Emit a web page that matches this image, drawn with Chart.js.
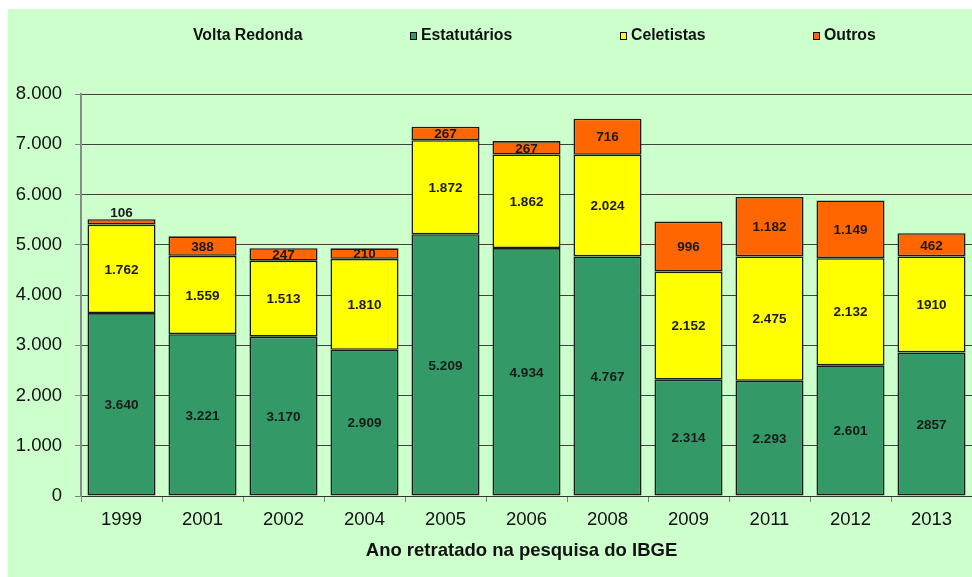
<!DOCTYPE html>
<html>
<head>
<meta charset="utf-8">
<script src="https://cdn.jsdelivr.net/npm/chart.js@4.4.1/dist/chart.umd.min.js"></script>
<style>
  html, body { margin: 0; padding: 0; background: #ffffff; }
  #wrap { width: 972px; height: 577px; position: relative; }
</style>
</head>
<body>
<div id="wrap"><canvas id="c" width="972" height="577"></canvas></div>
<script>
// ---- Data ----
const categories = ['1999', '2001', '2002', '2004', '2005', '2006', '2008', '2009', '2011', '2012', '2013'];
const estatutarios = [3640, 3221, 3170, 2909, 5209, 4934, 4767, 2314, 2293, 2601, 2857];
const celetistas   = [1762, 1559, 1513, 1810, 1872, 1862, 2024, 2152, 2475, 2132, 1910];
const outros       = [106, 388, 247, 210, 267, 267, 716, 996, 1182, 1149, 462];
const estatutariosLabels = ['3.640', '3.221', '3.170', '2.909', '5.209', '4.934', '4.767', '2.314', '2.293', '2.601', '2857'];
const celetistasLabels   = ['1.762', '1.559', '1.513', '1.810', '1.872', '1.862', '2.024', '2.152', '2.475', '2.132', '1910'];
const outrosLabels       = ['106', '388', '247', '210', '267', '267', '716', '996', '1.182', '1.149', '462'];
const yTickLabels = ['0', '1.000', '2.000', '3.000', '4.000', '5.000', '6.000', '7.000', '8.000'];
const seriesNames = ['Estatutários', 'Celetistas', 'Outros'];
const legendCaption = 'Volta Redonda';
const xAxisTitle = 'Ano retratado na pesquisa do IBGE';

const COLORS = ['#339966', '#ffff00', '#ff6600'];
const FONT = '"Liberation Sans", Arial, sans-serif';

const bgPlugin = {
  id: 'bg',
  beforeDraw(chart) {
    const ctx = chart.ctx;
    ctx.save();
    ctx.fillStyle = '#ffffff';
    ctx.fillRect(0, 0, chart.width, chart.height);
    ctx.fillStyle = '#ccffcc';
    ctx.fillRect(8, 9, chart.width - 8, chart.height - 9);
    ctx.restore();
  }
};

const labelPlugin = {
  id: 'barLabels',
  afterDatasetsDraw(chart) {
    const ctx = chart.ctx;
    const labelSets = [estatutariosLabels, celetistasLabels, outrosLabels];
    ctx.save();
    ctx.font = 'bold 13.5px ' + FONT;
    ctx.fillStyle = '#1a1a1a';
    ctx.textAlign = 'center';
    ctx.textBaseline = 'middle';
    chart.data.datasets.forEach((ds, di) => {
      const meta = chart.getDatasetMeta(di);
      meta.data.forEach((bar, i) => {
        const top = Math.min(bar.y, bar.base);
        const h = Math.abs(bar.base - bar.y);
        let y = top + h / 2;
        if (h < 8) y = top - 7;
        ctx.fillText(labelSets[di][i], bar.x, y + 1);
      });
    });
    ctx.restore();
  }
};

const legendPlugin = {
  id: 'customLegend',
  afterDraw(chart) {
    const ctx = chart.ctx;
    ctx.save();
    ctx.font = 'bold 15.8px ' + FONT;
    ctx.fillStyle = '#111111';
    ctx.textBaseline = 'middle';
    ctx.textAlign = 'left';
    const y = 36;
    ctx.fillText(legendCaption, 193, y);
    const boxX = [410, 620, 813];
    seriesNames.forEach((name, i) => {
      ctx.fillStyle = COLORS[i];
      ctx.fillRect(boxX[i], y - 4, 7, 8);
      ctx.strokeStyle = '#111111';
      ctx.lineWidth = 1;
      ctx.strokeRect(boxX[i] + 0.5, y - 3.5, 6, 7);
      ctx.fillStyle = '#111111';
      ctx.fillText(name, boxX[i] + 11, y);
    });
    // axis title
    ctx.font = 'bold 18.5px ' + FONT;
    ctx.textAlign = 'center';
    const a = chart.chartArea;
    ctx.fillText(xAxisTitle, (a.left + a.right) / 2 - 5, 551);
    ctx.restore();
  }
};

new Chart(document.getElementById('c'), {
  type: 'bar',
  data: {
    labels: categories,
    datasets: [
      { label: seriesNames[0], data: estatutarios, backgroundColor: COLORS[0] },
      { label: seriesNames[1], data: celetistas, backgroundColor: COLORS[1] },
      { label: seriesNames[2], data: outros, backgroundColor: COLORS[2] }
    ].map(d => Object.assign(d, {
      borderColor: '#1a1a1a',
      borderWidth: 1.6,
      borderSkipped: false,
      categoryPercentage: 1,
      barPercentage: 0.84
    }))
  },
  options: {
    responsive: false,
    animation: false,
    devicePixelRatio: 1,
    layout: { padding: { top: 94, right: 0, left: 0, bottom: 0 } },
    plugins: {
      legend: { display: false },
      title: { display: false },
      tooltip: { enabled: false }
    },
    scales: {
      x: {
        stacked: true,
        offset: true,
        grid: {
          offset: true,
          drawOnChartArea: false,
          drawTicks: true,
          tickLength: 6,
          color: '#808080'
        },
        border: { display: true, color: '#333333', width: 1 },
        ticks: {
          color: '#111111',
          font: { family: FONT, size: 18.5 },
          padding: 7,
          maxRotation: 0
        },
        afterFit(scale) { scale.height = 81; }
      },
      y: {
        stacked: true,
        min: 0,
        max: 8000,
        ticks: {
          stepSize: 1000,
          color: '#111111',
          font: { family: FONT, size: 18.5 },
          padding: 13,
          callback: (v, i) => yTickLabels[i]
        },
        grid: {
          color: '#404040',
          lineWidth: 1,
          tickLength: 6,
          tickColor: '#808080'
        },
        border: { display: true, color: '#8a8a8a', width: 2 },
        afterFit(scale) { scale.width = 81; }
      }
    }
  },
  plugins: [bgPlugin, labelPlugin, legendPlugin]
});
</script>
</body>
</html>
